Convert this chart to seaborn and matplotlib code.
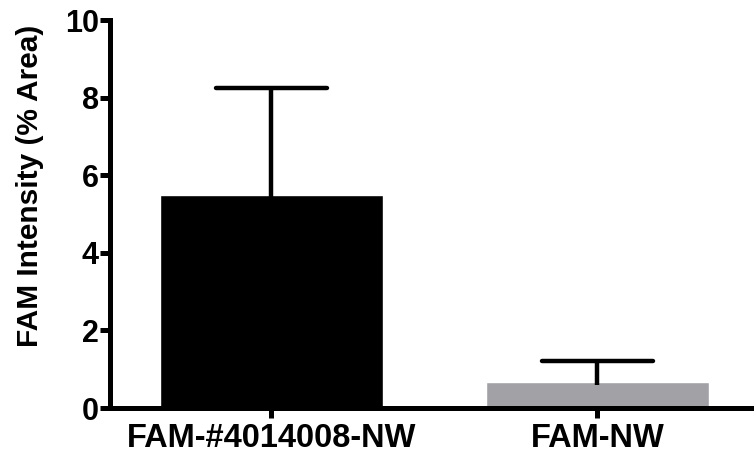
import matplotlib
matplotlib.use("Agg")
import matplotlib.pyplot as plt
import seaborn as sns
import pandas as pd
import numpy as np

categories = ["FAM-#4014008-NW", "FAM-NW"]
means = [5.48, 0.67]
errors = [2.77, 0.54]
colors = ["#000000", "#A2A1A6"]

sns.set_style("ticks")
plt.rcParams['font.family'] = ['Liberation Sans', 'DejaVu Sans']
plt.rcParams['font.weight'] = 'bold'
plt.rcParams['text.color'] = 'black'
plt.rcParams['axes.labelcolor'] = 'black'
plt.rcParams['xtick.color'] = 'black'
plt.rcParams['ytick.color'] = 'black'

df = pd.DataFrame({"group": categories, "value": means})

fig = plt.figure(figsize=(7.54, 4.58), dpi=100)
ax = fig.add_axes([0.146, 0.109, 0.854, 0.847])

sns.barplot(data=df, x="group", y="value", hue="group", palette=colors,
            width=0.684, legend=False, ax=ax, errorbar=None, saturation=1)

xs = np.arange(len(categories))
upper = np.array(means) + np.array(errors)
lower = np.array(means) - 0.08
ax.vlines(xs, lower, upper, colors="black", linewidth=3.2, zorder=3)
ax.hlines(upper, xs - 0.17, xs + 0.17, colors="black", linewidth=3.2,
          zorder=3, capstyle="round")

ax.set_ylim(0, 10)
ax.set_xlim(-0.494, 1.48)
ax.set_yticks([0, 2, 4, 6, 8, 10])
ax.set_xlabel("")
ax.set_ylabel("FAM Intensity (% Area)", fontsize=21.5, fontweight="bold",
              color="black")
ax.yaxis.set_label_coords(-0.102, 0.572)

for s in ["top", "right"]:
    ax.spines[s].set_visible(False)
for s in ["left", "bottom"]:
    ax.spines[s].set_linewidth(3.6)
    ax.spines[s].set_color("black")

ax.tick_params(axis="both", width=3.6, length=7, color="black", labelcolor="black")
ax.tick_params(axis="y", labelsize=22, pad=1)
ax.tick_params(axis="x", labelsize=23.5, pad=4)
for lab in ax.get_xticklabels() + ax.get_yticklabels():
    lab.set_fontweight("bold")

fig.savefig("out.png", dpi=100)
